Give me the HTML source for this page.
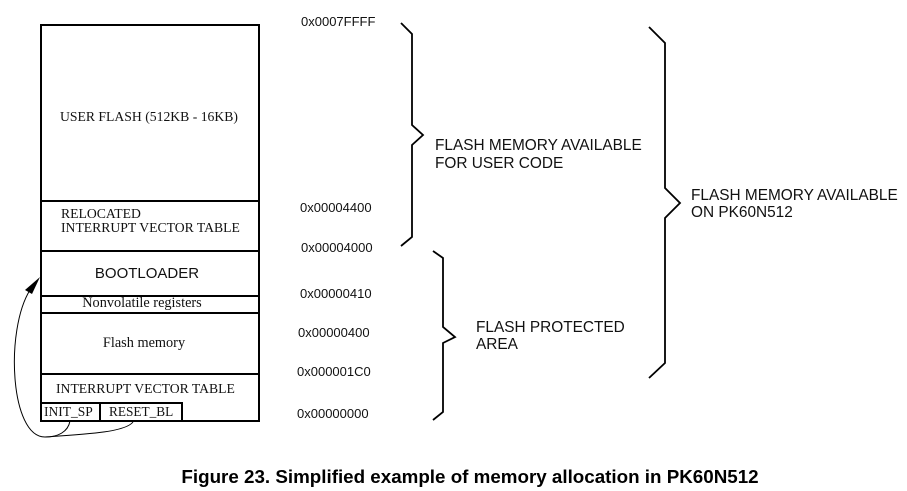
<!DOCTYPE html>
<html><head><meta charset="utf-8"><style>
html,body{margin:0;padding:0;background:#fff;}
svg{display:block}
.s{font-family:"Liberation Serif",serif;font-size:13.7px;fill:#111}
.a{font-family:"Liberation Sans",sans-serif;font-size:13px;fill:#111}
.b{font-family:"Liberation Sans",sans-serif;font-size:15.4px;fill:#111}
</style></head><body>
<svg width="907" height="491" viewBox="0 0 907 491" xmlns="http://www.w3.org/2000/svg">
<g stroke="#000" stroke-width="2" fill="none">
<rect x="41" y="25" width="218" height="396"/>
<line x1="41" y1="201" x2="259" y2="201"/>
<line x1="41" y1="251" x2="259" y2="251"/>
<line x1="41" y1="296" x2="260" y2="296"/>
<line x1="41" y1="313" x2="260" y2="313"/>
<line x1="41" y1="374" x2="260" y2="374"/>
<polyline points="41,403 182,403 182,421"/>
<line x1="100" y1="403" x2="100" y2="421"/>
<polyline stroke-width="1.8" points="401,23 412,34 412,125 423,135 412,145 412,237 401,246"/>
<polyline stroke-width="1.8" points="433,251 443,258 443,327 455,337 443,343 443,412 433,420"/>
<polyline stroke-width="1.8" points="649,27 665,43 665,188 680,203 665,218 665,363 649,378"/>
</g>
<g stroke="#000" stroke-width="1" fill="none">
<path d="M70,421 C68,432 58,437 45,437 C10,437 5,330 30,290"/>
<path d="M133,422 C125,432 90,434 45,437"/>
</g>
<polygon points="40,277 25,290 32,294" fill="#000"/>
<text class="s" x="149" y="121" text-anchor="middle">USER FLASH (512KB - 16KB)</text>
<text class="s" x="61" y="218">RELOCATED</text>
<text class="s" x="61" y="232">INTERRUPT VECTOR TABLE</text>
<text class="b" x="147" y="278" text-anchor="middle" style="font-size:15px">BOOTLOADER</text>
<text class="s" x="142" y="307" text-anchor="middle" style="font-size:14.3px">Nonvolatile registers</text>
<text class="s" x="144" y="347" text-anchor="middle" style="font-size:14.3px">Flash memory</text>
<text class="s" x="56" y="393">INTERRUPT VECTOR TABLE</text>
<text class="s" x="44" y="416" style="font-size:13.5px">INIT_SP</text>
<text class="s" x="109" y="416" style="font-size:13.3px">RESET_BL</text>
<text class="a" x="301" y="26">0x0007FFFF</text>
<text class="a" x="300" y="212">0x00004400</text>
<text class="a" x="301" y="252">0x00004000</text>
<text class="a" x="300" y="298">0x00000410</text>
<text class="a" x="298" y="337">0x00000400</text>
<text class="a" x="297" y="376">0x000001C0</text>
<text class="a" x="297" y="418">0x00000000</text>
<text class="b" x="435" y="150">FLASH MEMORY AVAILABLE</text>
<text class="b" x="435" y="168">FOR USER CODE</text>
<text class="b" x="476" y="332">FLASH PROTECTED</text>
<text class="b" x="476" y="349">AREA</text>
<text class="b" x="691" y="200">FLASH MEMORY AVAILABLE</text>
<text class="b" x="691" y="217">ON PK60N512</text>
<text x="470" y="483" text-anchor="middle" style="font-family:'Liberation Sans',sans-serif;font-size:18.8px;font-weight:bold;fill:#000">Figure 23. Simplified example of memory allocation in PK60N512</text>
</svg>
</body></html>
